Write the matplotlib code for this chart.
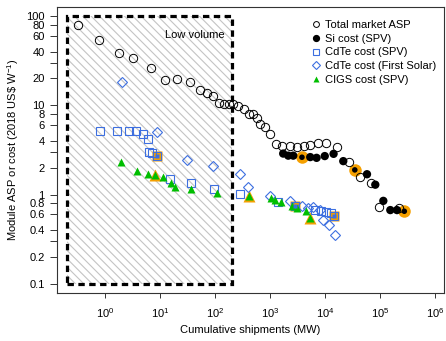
import numpy as np
import matplotlib
matplotlib.use('Agg')
import matplotlib.pyplot as plt
from matplotlib.patches import Rectangle
from matplotlib.ticker import FixedLocator, NullLocator

# total market ASP
asp_x = [0.32, 0.78, 1.82, 3.2, 6.8, 12, 20, 35, 52, 72, 93, 118, 146, 176, 215, 265, 327, 403,
         484, 573, 658, 811, 1000, 1285, 1633, 2244, 3055, 4029, 5335, 7244, 10430, 16330,
         26530, 42070, 68600, 93100, 215000]
asp_y = [80, 54, 39, 34, 26, 19.4, 19.5, 18.4, 14.9, 13.6, 12.6, 10.6, 10.4, 10.4, 10.4, 9.9, 9.1, 8.0,
         7.9, 7.3, 6.2, 5.7, 4.8, 3.7, 3.5, 3.5, 3.45, 3.5, 3.6, 3.75, 3.75, 3.4,
         2.3, 1.56, 1.36, 0.73, 0.70]

# Si cost (SPV)
si_x = [1720, 2125, 2620, 3770, 5335, 6950, 9790, 14160, 21240, 34400, 57300, 81100,
        113500, 152000, 201000, 273000]
si_y = [2.88, 2.73, 2.73, 2.62, 2.63, 2.58, 2.70, 2.86, 2.37, 1.89, 1.69, 1.29,
        0.85, 0.67, 0.67, 0.65]
si_hl = [3, 9, 15]

# CdTe cost (SPV)
cdte_x = [0.81, 1.63, 2.77, 3.71, 4.91, 5.93, 6.36, 7.21, 8.93, 15.2, 36.2, 96.7, 285,
          1358, 2850, 6580, 8350, 10430, 12850, 14580]
cdte_y = [5.12, 5.12, 5.12, 5.1, 4.82, 4.24, 3.02, 2.95, 2.73, 1.50, 1.34, 1.16, 1.02,
          0.82, 0.74, 0.67, 0.65, 0.63, 0.62, 0.57]
cdte_hl = [8, 14, 19]

# CdTe cost (First Solar)
fs_x = [2.06, 8.82, 30.6, 90.8, 285, 398, 1000, 2280, 3820, 4910, 6050, 8110, 9200, 11480, 14890]
fs_y = [18.4, 5.04, 2.45, 2.11, 1.72, 1.21, 0.97, 0.84, 0.74, 0.71, 0.72, 0.67, 0.52, 0.455, 0.35]

# CIGS cost (SPV)
cigs_x = [1.95, 3.82, 6.13, 8.01, 11.2, 16.0, 18.4, 35.6, 106, 420, 1030, 1207, 1585, 2480,
          3100, 4420, 5340]
cigs_y = [2.34, 1.82, 1.69, 1.64, 1.58, 1.36, 1.20, 1.14, 1.05, 0.97, 0.91, 0.88, 0.83, 0.75,
          0.70, 0.66, 0.55]
cigs_hl = [3, 9, 16]

y_ticks = [0.1, 0.2, 0.3, 0.4, 0.6, 0.8, 1, 2, 3, 4, 6, 8, 10, 20, 30, 40, 60, 80, 100]
y_labels = ['0.1', '0.2', '', '0.4', '0.6', '0.8', '1', '2', '', '4', '6', '8',
            '10', '20', '', '40', '60', '80', '100']
x_ticks = [1, 10, 100, 1e3, 1e4, 1e5, 1e6]
x_labels = ['$10^{%d}$' % i for i in range(7)]

orange = '#F5A000'
blue = '#3D6FE0'
green = '#00BE00'

plt.rcParams['font.family'] = 'Liberation Sans'
plt.rcParams['mathtext.fontset'] = 'custom'
plt.rcParams['mathtext.rm'] = 'Liberation Sans'
plt.rcParams['mathtext.it'] = 'Liberation Sans'
plt.rcParams['hatch.linewidth'] = 0.8
plt.rcParams['hatch.color'] = '#c4c4c4'

fig = plt.figure(figsize=(4.46, 3.41), dpi=100)
ax = fig.add_axes([0.128, 0.141, 0.868, 0.838])
ax.set_xscale('log')
ax.set_yscale('log')
ax.set_xlim(0.134, 1.45e6)
ax.set_ylim(0.079, 126)

# low volume region
ax.add_patch(Rectangle((0.2, 0.1), 200 - 0.2, 100 - 0.1, facecolor='none',
                       edgecolor='#c4c4c4', hatch='\\\\\\\\', linewidth=0, zorder=0))
ax.add_patch(Rectangle((0.2, 0.1), 200 - 0.2, 100 - 0.1, facecolor='none',
                       edgecolor='black', linewidth=2.3, linestyle=(0, (2.0, 1.4)), zorder=1))
ax.text(42, 62, 'Low volume', fontsize=8, ha='center', va='center')

ms = 6
# highlights
ax.plot(np.array(si_x)[si_hl], np.array(si_y)[si_hl], 'o', ms=ms + 3, color=orange,
        mec='none', zorder=2)
ax.plot(np.array(cdte_x)[cdte_hl], np.array(cdte_y)[cdte_hl], 's', ms=ms + 1, color=orange,
        mec='none', zorder=2)
ax.plot(np.array(cigs_x)[cigs_hl], np.array(cigs_y)[cigs_hl], '^', ms=ms + 2.5, color=orange,
        mec='none', zorder=2)

ax.plot(asp_x, asp_y, 'o', ms=ms, mfc='none', mec='black', mew=0.7, zorder=3,
        label='Total market ASP')
si_ms = [ms - 2 if i in si_hl else ms for i in range(len(si_x))]
ax.scatter(si_x, si_y, s=np.array(si_ms) ** 2, c='black', edgecolors='none', zorder=4)
ax.plot([], [], 'o', ms=ms, color='black', label='Si cost (SPV)')
ax.plot(cdte_x, cdte_y, 's', ms=ms - 0.5, mfc='none', mec=blue, mew=0.8, zorder=3,
        label='CdTe cost (SPV)')
ax.plot(np.array(cdte_x)[cdte_hl], np.array(cdte_y)[cdte_hl], 's', ms=2.5, color=blue,
        mec='none', zorder=4)
ax.plot(fs_x, fs_y, 'D', ms=ms - 0.8, mfc='none', mec=blue, mew=0.8, zorder=3,
        label='CdTe cost (First Solar)')
ax.plot(cigs_x, cigs_y, '^', ms=ms, color=green, mec='none', zorder=3,
        label='CIGS cost (SPV)')

ax.xaxis.set_major_locator(FixedLocator(x_ticks))
ax.set_xticklabels(x_labels)
ax.xaxis.set_minor_locator(NullLocator())
ax.yaxis.set_major_locator(FixedLocator(y_ticks))
ax.set_yticklabels(y_labels)
ax.yaxis.set_minor_locator(NullLocator())
ax.tick_params(labelsize=8, width=0.7, color='#333333')
ax.tick_params(axis='x', length=3.5, pad=6)
ax.tick_params(axis='y', length=5, pad=4)

for s in ax.spines.values():
    s.set_linewidth(0.8)
    s.set_color('#333333')

ax.set_xlabel('Cumulative shipments (MW)', fontsize=8, labelpad=4)
ax.set_ylabel('Module ASP or cost (2018 US\\$ W$^{-1}$)', fontsize=8, labelpad=4)

ax.legend(loc='upper right', bbox_to_anchor=(1.0, 0.982), frameon=False, fontsize=8,
          markerscale=0.7, handlelength=0.8, handletextpad=0.4, labelspacing=0.33,
          borderaxespad=0.3)

fig.savefig('out.png', dpi=100)
